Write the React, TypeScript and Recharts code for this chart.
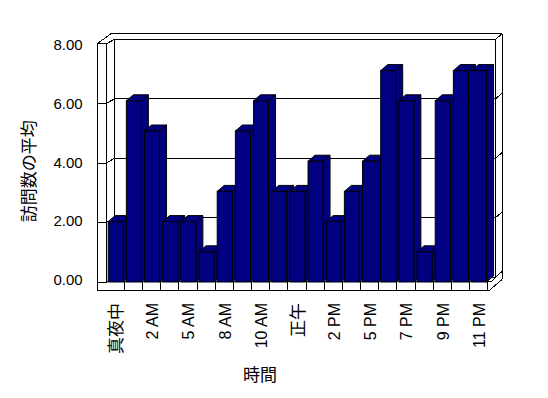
import { BarChart, Bar, XAxis, YAxis, CartesianGrid } from "recharts";

const hours = [
  "真夜中", "1 AM", "2 AM", "3 AM", "5 AM", "6 AM", "8 AM", "9 AM", "10 AM", "11 AM", "正午",
  "1 PM", "2 PM", "3 PM", "5 PM", "6 PM", "7 PM", "8 PM", "9 PM", "10 PM", "11 PM",
];
const visits = [2, 6, 5, 2, 2, 1, 3, 5, 6, 3, 3, 4, 2, 3, 4, 7, 6, 1, 6, 7, 7];
const yTicks = [0, 2, 4, 6, 8];

const data = hours.map((hour, i) => ({ hour, visits: visits[i] }));

const FONT = "'Liberation Sans', Arial, 'Noto Sans CJK JP', sans-serif";
const NAVY = "#000080";
// depth of the bars
const DX = 7;
const DY = -6;

function Bar3D(props: any) {
  const { x, y, width, height } = props;
  if (!height || height <= 0) return null;
  const r = x + width;
  const b = y + height;
  return (
    <g stroke="#000" strokeWidth={1} fill={NAVY}>
      <polygon points={`${r},${y} ${r + DX},${y + DY} ${r + DX},${b + DY} ${r},${b}`} />
      <polygon points={`${x},${y} ${x + DX},${y + DY} ${r + DX},${y + DY} ${r},${y}`} />
      <rect x={x} y={y} width={width} height={height} />
    </g>
  );
}

// one gridline of the 3D box: tick on the left wall, line on the back wall, tick on the right wall.
// the bottom line also draws the walls and the floor.
function WallLine(props: any) {
  const { x1, x2, y1, index, y, height } = props;
  const L = x1;
  const R = x2;
  const T = y;
  const B = y + height;
  const fy = (v: number) => B + 0.3 + (v - B) * 0.987;
  const by = (v: number) => B - 4.7 + (v - B) * 0.984;
  const yf = fy(y1);
  const yb = by(y1);
  const lines: number[][] = [
    [L - 9, yf, L, yf],
    [L, yf, L + 8, yb],
    [L + 8, yb, R + 7.6, yb],
    [R + 7.6, yb, R + 14.6, yb - 6],
  ];
  if (index === 0) {
    const FT = fy(T);
    const BT = by(T);
    const BB = by(B);
    const band = (R - L) / hours.length;
    lines.push(
      [L - 9, FT, L - 9, B + 8.7],
      [L, FT, L, B - 0.3],
      [L - 9, FT, L + 4.8, BT - 6],
      [L + 4.8, BT - 6, R + 14.6, BT - 6],
      [L + 8, BT, L + 8, BB],
      [R + 7.6, BT, R + 7.6, BB],
      [R + 14.6, BT - 6, R + 14.6, B - 2.7],
      [L, B - 0.3, R + 4, B - 0.3],
      [L - 9, B + 8.7, R + 1.3, B + 8.7],
      [R + 1.3, B + 8.7, R + 14.6, B - 2.7],
      [R + 4, B - 0.3, R + 7.6, BB],
    );
    for (let k = 1; k <= hours.length; k++) {
      const xx = L + k * band;
      lines.push([xx, B - 0.3, xx, B + 8.7]);
    }
  }
  return (
    <g key={props.key} stroke="#000" strokeWidth={1} shapeRendering="crispEdges">
      {lines.map((l, i) => (
        <line key={i} x1={l[0]} y1={l[1]} x2={l[2]} y2={l[3]} />
      ))}
    </g>
  );
}

function HourTick(props: any) {
  const { x, y, payload } = props;
  const ty = y + 21;
  const cjk = /[^\x00-\x7F]/.test(String(payload.value));
  return (
    <text
      x={x + 0.7}
      y={ty}
      dy="0.36em"
      textAnchor="end"
      transform={`rotate(-90, ${x + 0.7}, ${ty})`}
      fontFamily={FONT}
      fontSize={cjk ? 17 : 16}
      fill="#000"
    >
      {payload.value}
    </text>
  );
}

function ValueTick(props: any) {
  const { x, y, payload } = props;
  const v = Number(payload.value);
  return (
    <text x={x} y={y - 2.7 + 0.9 * v} dy="0.36em" textAnchor="end" fontFamily={FONT} fontSize={15} fill="#000">
      {v.toFixed(2)}
    </text>
  );
}

function YTitle(props: any) {
  const vb = props.viewBox || {};
  const cx = vb.x + 29;
  const cy = vb.y + vb.height / 2 + 10;
  return (
    <text
      x={cx}
      y={cy}
      dy="0.36em"
      textAnchor="middle"
      transform={`rotate(-90, ${cx}, ${cy})`}
      fontFamily={FONT}
      fontSize={17}
      fill="#000"
    >
      訪問数の平均
    </text>
  );
}

function XTitle(props: any) {
  const vb = props.viewBox || {};
  const cx = vb.x + vb.width / 2 - 37;
  const cy = vb.y + 93;
  return (
    <text x={cx} y={cy} dy="0.36em" textAnchor="middle" fontFamily={FONT} fontSize={17} fill="#000">
      時間
    </text>
  );
}

export default function App() {
  return (
    <div style={{ position: "absolute", left: 0, top: 0, background: "#fff" }}>
      <BarChart
        width={548}
        height={398}
        data={data}
        margin={{ top: 40.4, right: 60.3, bottom: 0, left: 0 }}
      >
        <CartesianGrid horizontal={(p: any) => <WallLine {...p} />} vertical={false} />
        <XAxis
          dataKey="hour"
          interval={1}
          height={116}
          tickSize={0}
          tickMargin={0}
          axisLine={false}
          tickLine={false}
          tick={<HourTick />}
          label={(p: any) => <XTitle {...p} />}
        />
        <YAxis
          domain={[0, 8]}
          ticks={yTicks}
          width={106.2}
          tickSize={0}
          tickMargin={23.5}
          axisLine={false}
          tickLine={false}
          tick={<ValueTick />}
          label={(p: any) => <YTitle {...p} />}
        />
        <Bar dataKey="visits" barSize={15} shape={<Bar3D />} isAnimationActive={false} />
      </BarChart>
    </div>
  );
}
